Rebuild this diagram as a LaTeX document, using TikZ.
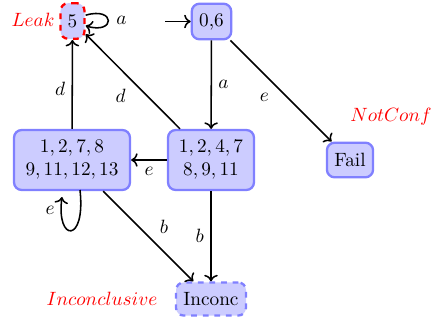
\documentclass[tikz,border=0pt]{standalone}
\usetikzlibrary{arrows.meta}
\begin{document}
\begin{tikzpicture}[x={(0.52pt,0)},y={(0,-0.52pt)},
  st/.style={draw=blue!50,fill=blue!20,line width=1.2pt,rounded corners=4pt,inner sep=0pt,align=center},
  lab/.style={text=red},
  edge/.style={->,thick,black}]
\useasboundingbox (0,0) rectangle (445,320);
\node[st,draw=red,dashed,minimum width=12.5pt,minimum height=18.5pt] (n5) at (72.5,21) {5};
\node[st,minimum width=20.5pt,minimum height=18.5pt] (n06) at (211.5,21.5) {0,6};
\node[st,minimum width=44.7pt,minimum height=31.2pt] (n1247) at (211,160) {$1,2,4,7$\\$8,9,11$};
\node[st,minimum width=60.3pt,minimum height=31.2pt] (n1278) at (72,160) {$1,2,7,8$\\$9,11,12,13$};
\node[st,minimum width=24pt,minimum height=18pt] (nfail) at (350,160) {Fail};
\node[st,dashed,minimum width=36.4pt,minimum height=17.2pt] (ninc) at (211,299) {Inconc};
\node[lab] (lleak) at (33,20) {$Leak$};
\node[lab] (lnc) at (391,117) {$NotConf$};
\node[lab] (linc) at (102,299) {$Inconclusive$};
\coordinate (init) at (165,21.5);
\draw[edge] (init) -- (n06);
\draw[edge] ([yshift=3pt]n5.east) .. controls +(30,-9) and +(30,9) .. ([yshift=-2.5pt]n5.east) node[pos=0.5,right=0.5pt] {$a$};
\draw[edge] (n06) -- node[right] {$a$} (n1247);
\draw[edge] (n06) -- node[below left,pos=0.45] {$e$} (nfail);
\draw[edge] (n1247) -- node[below] {$e$} (n1278);
\draw[edge] (n1247) -- node[below left,pos=0.5] {$d$} (n5);
\draw[edge] (n1278) -- node[left,pos=0.45] {$d$} (n5);
\draw[edge] (n1278) -- node[above right,pos=0.55] {$b$} (ninc);
\draw[edge] (n1247) -- node[left] {$b$} (ninc);
\coordinate (lpA) at (80,190);
\coordinate (lpB) at (62,197);
\draw[edge] (lpA) .. controls (86,244) and (56,242) .. (lpB);
\node (le) at (50,210) {$e$};
\end{tikzpicture}
\end{document}
